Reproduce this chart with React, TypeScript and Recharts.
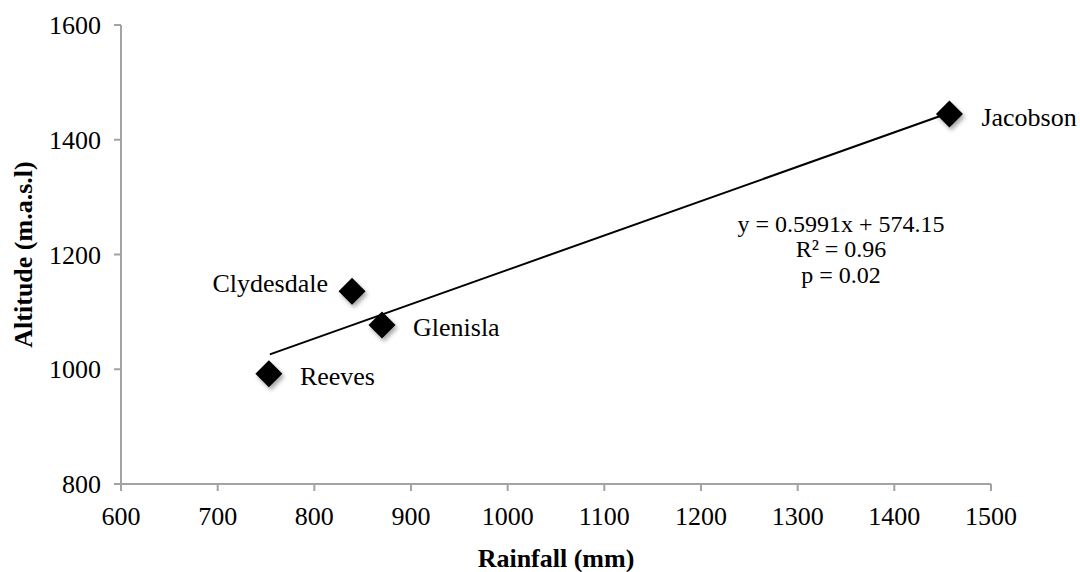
import React from 'react'
import { ScatterChart, Scatter, XAxis, YAxis, Label } from 'recharts'

// site names and readings (rainfall mm, altitude m.a.s.l)
const sites = ['Jacobson', 'Clydesdale', 'Glenisla', 'Reeves']
const rainfall = [1457, 839, 870, 753]
const altitude = [1445, 1136, 1077, 992]

// fitted trendline end points
const trendX = [754, 1457]
const trendY = [1026, 1447]

const xTicks = [600, 700, 800, 900, 1000, 1100, 1200, 1300, 1400, 1500]
const yTicks = [800, 1000, 1200, 1400, 1600]

const eqLines = ['y = 0.5991x + 574.15', 'R² = 0.96', 'p = 0.02']

const FONT = '"Liberation Serif", "Times New Roman", serif'
const AXIS = '#a3a3a3'

// where each site name sits relative to its marker
const labelPlace: Record<string, { dx: number; dy: number; anchor: 'start' | 'end' }> = {
  Jacobson: { dx: 32, dy: 12, anchor: 'start' },
  Clydesdale: { dx: -24, dy: 1, anchor: 'end' },
  Glenisla: { dx: 31, dy: 11, anchor: 'start' },
  Reeves: { dx: 31, dy: 11, anchor: 'start' },
}

const points = sites.map((name, i) => ({ name, x: rainfall[i], y: altitude[i] }))
const trend = trendX.map((x, i) => ({ x, y: trendY[i] }))

const Diamond = (props: any) => {
  const { cx, cy, payload } = props
  const r = 13.5
  const place = labelPlace[payload.name]
  return (
    <g>
      <defs>
        <filter id="dshadow" x="-50%" y="-50%" width="200%" height="200%">
          <feDropShadow dx="2" dy="3" stdDeviation="2" floodColor="#000" floodOpacity="0.35" />
        </filter>
      </defs>
      <polygon
        points={`${cx},${cy - r} ${cx + r},${cy} ${cx},${cy + r} ${cx - r},${cy}`}
        fill="#000"
        filter="url(#dshadow)"
      />
      <text
        x={cx + place.dx}
        y={cy + place.dy}
        textAnchor={place.anchor}
        fontFamily={FONT}
        fontSize={26}
        fill="#000"
      >
        {payload.name}
      </text>
    </g>
  )
}

export default function App() {
  return (
    <div style={{ position: 'absolute', left: 0, top: 0, width: 1080, height: 572, background: '#fff' }}>
      <ScatterChart width={1080} height={572} margin={{ top: 25, right: 89, bottom: 0, left: 0 }}>
        <XAxis
          type="number"
          dataKey="x"
          domain={[600, 1500]}
          ticks={xTicks}
          interval={0}
          height={88}
          stroke={AXIS}
          strokeWidth={2}
          tickSize={7}
          tickMargin={16}
          tick={{ fill: '#000', fontSize: 26, fontFamily: FONT }}
        >
          <Label
            value="Rainfall (mm)"
            position="insideBottom"
            offset={5}
            style={{ fill: '#000', fontSize: 26, fontWeight: 'bold', fontFamily: FONT }}
          />
        </XAxis>
        <YAxis
          type="number"
          dataKey="y"
          domain={[800, 1600]}
          ticks={yTicks}
          interval={0}
          width={121}
          stroke={AXIS}
          strokeWidth={2}
          tickSize={7}
          tickMargin={13}
          tick={{ fill: '#000', fontSize: 26, fontFamily: FONT }}
        >
          <Label
            value="Altitude (m.a.s.l)"
            angle={-90}
            position="insideLeft"
            offset={23}
            style={{ fill: '#000', fontSize: 26, fontWeight: 'bold', fontFamily: FONT, textAnchor: 'middle' }}
          />
        </YAxis>
        <Scatter
          data={trend}
          line={{ stroke: '#000', strokeWidth: 2 }}
          shape={() => <g />}
          isAnimationActive={false}
        />
        <Scatter data={points} shape={<Diamond />} isAnimationActive={false} />
        <text textAnchor="middle" fontFamily={FONT} fontSize={24} fill="#000">
          <tspan x={841} y={232}>{eqLines[0]}</tspan>
          <tspan x={841} y={257}>{eqLines[1]}</tspan>
          <tspan x={841} y={283}>{eqLines[2]}</tspan>
        </text>
      </ScatterChart>
    </div>
  )
}
